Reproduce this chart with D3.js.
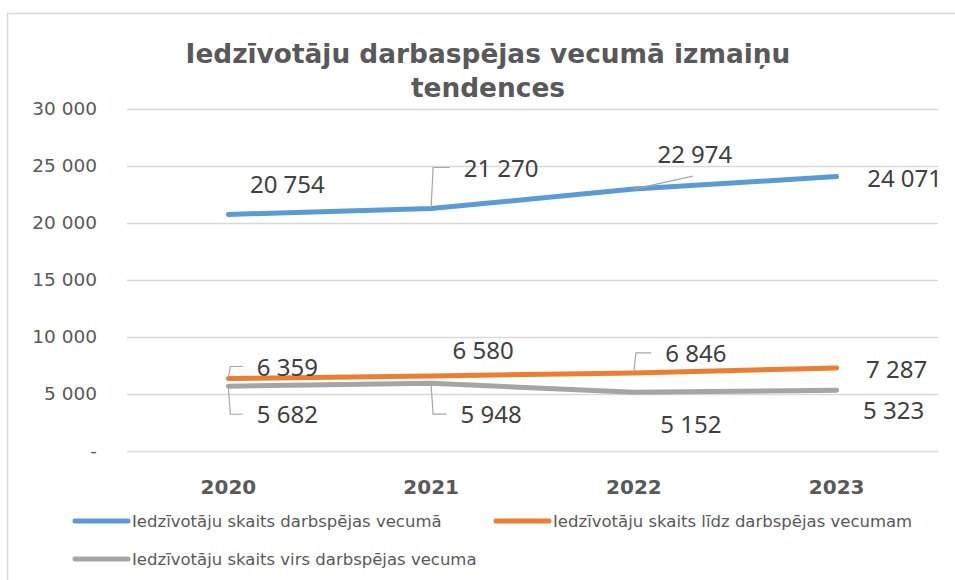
<!DOCTYPE html>
<html>
<head>
<meta charset="utf-8">
<script src="https://cdn.jsdelivr.net/npm/d3@7"></script>
<style>
  body { margin: 0; background: #fff; }
  svg { display: block; }
</style>
</head>
<body>
<div id="chart"></div>
<script>
// chart data
var years = ["2020", "2021", "2022", "2023"];
var seriesNames = [
    "Iedzīvotāju skaits darbspējas vecumā",
    "Iedzīvotāju skaits līdz darbspējas vecumam",
    "Iedzīvotāju skaits virs darbspējas vecuma"
];
var workingAge = [20754, 21270, 22974, 24071];
var belowAge = [6359, 6580, 6846, 7287];
var aboveAge = [5682, 5948, 5152, 5323];
var yTicks = [0, 5000, 10000, 15000, 20000, 25000, 30000];
var titleLines = ["Iedzīvotāju darbaspējas vecumā izmaiņu", "tendences"];

var colors = ["#5b9bd5", "#ed7d31", "#a5a5a5"];

// manual label placement (like in the excel original): offset from point, leader style
var labelLayout = [
    [{dx: 59, dy: -21}, {dx: 70, dy: -32, leader: "elbow"}, {dx: 61, dy: -26, leader: "straight"}, {dx: 68, dy: 10}],
    [{dx: 59, dy: -3, leader: "elbow"}, {dx: 52, dy: -17}, {dx: 62, dy: -11, leader: "elbow"}, {dx: 60, dy: 10}],
    [{dx: 59, dy: 37, leader: "elbow"}, {dx: 60, dy: 40, leader: "elbow"}, {dx: 57, dy: 41}, {dx: 57, dy: 29}]
];

var W = 955, H = 580;
var margin = {top: 109, right: 17, bottom: 129, left: 127};

var svg = d3.select("#chart").append("svg")
    .attr("width", W)
    .attr("height", H);

// outer chart border
svg.append("rect")
    .attr("x", 7.5).attr("y", 13.5)
    .attr("width", 980).attr("height", 620)
    .attr("fill", "#fff")
    .attr("stroke", "#d9d9d9")
    .attr("stroke-width", 1.5);

// title
svg.append("text")
    .attr("x", 488)
    .attr("text-anchor", "middle")
    .style("font-family", "'DejaVu Sans', Verdana, sans-serif")
    .style("font-weight", "bold")
    .style("font-size", "26.4px")
    .attr("fill", "#595959")
    .selectAll("tspan")
    .data(titleLines)
    .join("tspan")
    .attr("x", 488)
    .attr("y", function(d, i) { return 63 + i * 34; })
    .text(function(d) { return d; });

var x = d3.scaleBand().domain(years).range([margin.left, W - margin.right]);
var y = d3.scaleLinear().domain([0, 30000]).range([H - margin.bottom, margin.top]);

var fmt = function(v) {
    if (v === 0) return "-";
    return d3.format(",")(v).replace(/,/g, " ");
};

// gridlines + y labels
var yAxis = d3.axisLeft(y)
    .tickValues(yTicks)
    .tickSize(-(W - margin.right - margin.left))
    .tickPadding(30)
    .tickFormat(fmt);

var gy = svg.append("g")
    .attr("transform", "translate(" + margin.left + ",0)")
    .call(yAxis);
gy.select(".domain").remove();
gy.selectAll(".tick line").attr("stroke", "#d9d9d9").attr("stroke-width", 1.5);
gy.selectAll(".tick text")
    .attr("fill", "#595959")
    .style("font-family", "'DejaVu Sans', Verdana, sans-serif")
    .style("font-size", "18.5px");

// x labels
var xAxis = d3.axisBottom(x).tickSize(0).tickPadding(0);
var gx = svg.append("g")
    .attr("transform", "translate(0," + (H - margin.bottom) + ")")
    .call(xAxis);
gx.select(".domain").remove();
gx.selectAll(".tick text")
    .attr("dy", null)
    .attr("y", 43)
    .attr("fill", "#595959")
    .style("font-family", "'DejaVu Sans', Verdana, sans-serif")
    .style("font-weight", "bold")
    .style("font-size", "20px");

var allSeries = [workingAge, belowAge, aboveAge];
var cx = function(i) { return x(years[i]) + x.bandwidth() / 2; };

var line = d3.line()
    .x(function(d, i) { return cx(i); })
    .y(function(d) { return y(d); });

// draw lines, gray first so blue/orange sit on top like the original
[2, 1, 0].forEach(function(s) {
    svg.append("path")
        .datum(allSeries[s])
        .attr("d", line)
        .attr("fill", "none")
        .attr("stroke", colors[s])
        .attr("stroke-width", 5)
        .attr("stroke-linecap", "round")
        .attr("stroke-linejoin", "round");
});

// data labels with leader lines
var labelFont = 24;
allSeries.forEach(function(vals, s) {
    vals.forEach(function(v, i) {
        var lay = labelLayout[s][i];
        var px = cx(i), py = y(v);
        var lx = px + lay.dx, ly = py + lay.dy;

        var t = svg.append("text")
            .attr("x", lx)
            .attr("y", ly)
            .attr("text-anchor", "middle")
            .attr("fill", "#404040")
            .style("font-family", "'Noto Sans', 'Open Sans', sans-serif")
            .style("font-size", labelFont + "px")
            .text(fmt(v));

        if (lay.leader) {
            var bb = t.node().getBBox();
            var left = bb.x;
            var mid = ly - 9;
            var path;
            if (lay.leader === "elbow") {
                var startY = mid < py ? py - 1 : py + 2;
                path = "M" + px + "," + startY + "L" + (px + 2) + "," + mid + "L" + (left - 14) + "," + mid;
            } else {
                path = "M" + px + "," + py + "L" + (lx - 2) + "," + (ly + 13);
            }
            svg.append("path")
                .attr("d", path)
                .attr("fill", "none")
                .attr("stroke", "#a6a6a6")
                .attr("stroke-width", 1.2);
        }
    });
});

// legend
var legendPos = [{x: 75, y: 521}, {x: 496, y: 521}, {x: 75, y: 559}];
var legend = svg.append("g");
seriesNames.forEach(function(name, s) {
    var p = legendPos[s];
    legend.append("line")
        .attr("x1", p.x).attr("x2", p.x + 53)
        .attr("y1", p.y).attr("y2", p.y)
        .attr("stroke", colors[s])
        .attr("stroke-width", 5)
        .attr("stroke-linecap", "round");
    legend.append("text")
        .attr("x", p.x + 57)
        .attr("y", p.y + 6)
        .attr("fill", "#595959")
        .style("font-family", "'DejaVu Sans', Verdana, sans-serif")
        .style("font-size", "16.5px")
        .text(name);
});
</script>
</body>
</html>
